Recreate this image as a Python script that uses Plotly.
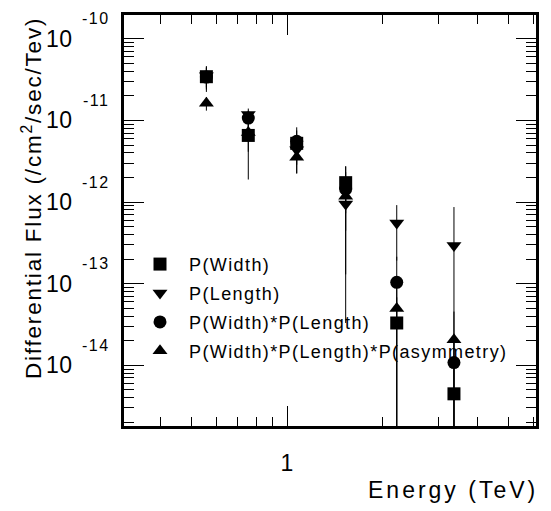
import plotly.graph_objects as go

# ---- data ----
energy = [0.557, 0.755, 1.073, 1.531, 2.218, 3.36]

flux_width = [3.44e-11, 6.56e-12, 5.25e-12, 1.73e-12, 3.30e-14, 4.47e-15]
err_width = [1.2e-11, 4.67e-12, 3.0e-12, 1.0e-12, 3.5e-14, 5e-15]

flux_length = [3.54e-11, 1.18e-11, 4.37e-12, 9.46e-13, 5.55e-13, 2.94e-13]
err_length = [1.0e-11, 2.2e-12, 1.5e-12, 5e-13, 3.63e-13, 5.75e-13]

flux_wl = [3.40e-11, 1.07e-11, 5.55e-12, 1.44e-12, 1.04e-13, 1.08e-14]
err_wl = [1.0e-11, 2.5e-12, 2.0e-12, 1.31e-12, 1.1e-13, 1.2e-14]

flux_wla = [1.63e-11, 7.14e-12, 3.54e-12, 1.18e-12, 4.95e-14, 2.05e-14]
err_wla = [3.1e-12, 3.0e-12, 1.3e-12, 1.147e-12, 5e-14, 2.5e-14]

series_names = ["P(Width)", "P(Length)", "P(Width)*P(Length)",
                "P(Width)*P(Length)*P(asymmetry)"]

x_major = [1]
x_major_text = ["1"]
x_minor = [0.4, 0.5, 0.6, 0.7, 0.8, 0.9, 2, 3, 4, 5, 6]

y_decades = [-10, -11, -12, -13, -14]
y_base_text = ["10", "10", "10", "10", "10"]
y_exp_text = ["-10", "-11", "-12", "-13", "-14"]
y_minor = [m * 10.0 ** e for e in range(-15, -9) for m in range(2, 10)]

x_title = "Energy (TeV)"
y_title = "Differential Flux (/cm<sup>2</sup>/sec/Tev)"

FONT = "Liberation Sans, Arial, sans-serif"


def sp(t, ls):
    return f'<span style="letter-spacing:{ls}px">{t}</span>'


fig = go.Figure()

specs = [
    # (values, errors, name, symbol, legend rank)
    (flux_length, err_length, series_names[1], "triangle-down", 2),
    (flux_wla, err_wla, series_names[3], "triangle-up", 4),
    (flux_wl, err_wl, series_names[2], "circle", 3),
    (flux_width, err_width, series_names[0], "square", 1),
]
for vals, errs, name, sym, rank in specs:
    fig.add_trace(go.Scatter(
        x=energy, y=vals, mode="markers", name=sp(name, 1.4),
        legendrank=rank, legendgroup=name,
        marker=dict(symbol=sym, size=13, color="black",
                    line=dict(width=0)),
        error_y=dict(type="data", array=errs, visible=True,
                     color="black", thickness=1, width=0),
    ))

L, R, T, B = 124, 15, 13, 85
W, H = 551, 511
pw = W - L - R
ph = H - T - B

annotations = []
for d, bt, et in zip(y_decades, y_base_text, y_exp_text):
    annotations.append(dict(
        x=(59 - L) / pw, xref="paper", y=d, yref="y", text=sp(bt, 0.5),
        showarrow=False, xanchor="center", yanchor="middle",
        font=dict(family=FONT, size=23, color="black")))
    annotations.append(dict(
        x=(96 - L) / pw, xref="paper", y=d, yref="y", yshift=20,
        text=sp(et, 1.5),
        showarrow=False, xanchor="center", yanchor="middle",
        font=dict(family=FONT, size=16, color="black")))

annotations.append(dict(
    x=(32 - L) / pw, xref="paper", y=1.0, yref="paper", text=sp(y_title, 1.8),
    textangle=-90, showarrow=False, xanchor="center", yanchor="top",
    font=dict(family=FONT, size=22.5, color="black")))
annotations.append(dict(
    x=1.0, xref="paper", y=(H - B - 490) / ph, yref="paper", xshift=4,
    text=sp(x_title, 3), showarrow=False, xanchor="right", yanchor="middle",
    font=dict(family=FONT, size=23, color="black")))

fig.update_layout(
    width=W, height=H,
    margin=dict(l=L, r=R, t=T, b=B, pad=0),
    paper_bgcolor="white", plot_bgcolor="white",
    showlegend=True,
    legend=dict(x=(131 - L) / pw, y=(H - B - 245) / ph,
                xanchor="left", yanchor="top",
                bgcolor="rgba(0,0,0,0)", borderwidth=0,
                font=dict(family=FONT, size=18, color="black"),
                itemwidth=48, tracegroupgap=2.5, traceorder="grouped"),
    annotations=annotations,
    font=dict(family=FONT, color="black"),
)

fig.update_xaxes(
    type="log", range=[-0.5139, 0.785],
    showline=True, linewidth=3, linecolor="black", mirror="ticks",
    showgrid=False, zeroline=False,
    tickmode="array", tickvals=x_major, ticktext=x_major_text,
    ticks="inside", ticklen=20, tickwidth=1, tickcolor="black",
    ticklabelstandoff=14,
    tickfont=dict(family=FONT, size=23, color="black"),
    minor=dict(tickmode="array", tickvals=x_minor, ticks="inside",
               ticklen=9, tickwidth=1, tickcolor="black", showgrid=False),
)
fig.update_yaxes(
    type="log", range=[-14.744, -9.7073],
    showline=True, linewidth=3, linecolor="black", mirror="ticks",
    showgrid=False, zeroline=False,
    tickmode="array", tickvals=[10.0 ** d for d in y_decades],
    showticklabels=False,
    ticks="inside", ticklen=20, tickwidth=1, tickcolor="black",
    minor=dict(tickmode="array", tickvals=y_minor, ticks="inside",
               ticklen=10, tickwidth=1, tickcolor="black", showgrid=False),
)

fig.write_html(
    "out.html",
    config={"displayModeBar": False},
    post_script="document.body.style.margin='0';"
                "document.body.style.overflow='hidden';",
)
